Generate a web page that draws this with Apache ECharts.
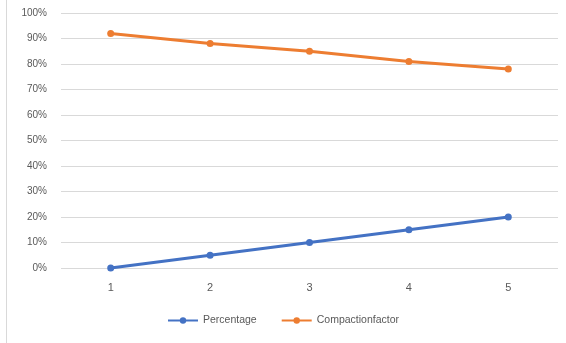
<!DOCTYPE html>
<html><head><meta charset="utf-8">
<script src="https://cdn.jsdelivr.net/npm/echarts@6/dist/echarts.min.js"></script>
<style>html,body{margin:0;padding:0;background:#fff}#c{width:566px;height:343px}</style>
</head><body><div id="c"></div>
<script>
var categories = ['1','2','3','4','5'];
var percentage = [0, 5, 10, 15, 20];
var compactionFactor = [92, 88, 85, 81, 78];
var chart = echarts.init(document.getElementById('c'));
chart.setOption({
  animation: false,
  textStyle: {fontFamily: 'Liberation Sans, Arial, sans-serif'},
  graphic: [{type:'rect', shape:{x:6.5,y:-2,width:600,height:350}, style:{fill:'none', stroke:'#d9d9d9', lineWidth:1}}],
  grid: {left: 61, right: 8, top: 13, bottom: 75},
  legend: {
    bottom: 12, left: 'center', itemGap: 24, itemWidth: 30, itemHeight: 8,
    textStyle: {color: '#595959', fontSize: 10.5},
    data: ['Percentage', 'Compactionfactor']
  },
  xAxis: {
    type: 'category', data: categories, boundaryGap: true,
    axisLine: {show: false}, axisTick: {show: false},
    axisLabel: {color: '#595959', fontSize: 11, margin: 14}
  },
  yAxis: {
    type: 'value', min: 0, max: 100, interval: 10,
    axisLabel: {formatter: '{value}%', color: '#595959', fontSize: 10, margin: 14},
    splitLine: {lineStyle: {color: '#d9d9d9', width: 1}},
    axisLine: {show: false}, axisTick: {show: false}
  },
  series: [
    {name: 'Percentage', type: 'line', data: percentage, symbol: 'circle', symbolSize: 7,
     itemStyle: {color: '#4472C4'}, lineStyle: {width: 3, color: '#4472C4'}},
    {name: 'Compactionfactor', type: 'line', data: compactionFactor, symbol: 'circle', symbolSize: 7,
     itemStyle: {color: '#ED7D31'}, lineStyle: {width: 3, color: '#ED7D31'}}
  ]
});
</script></body></html>
